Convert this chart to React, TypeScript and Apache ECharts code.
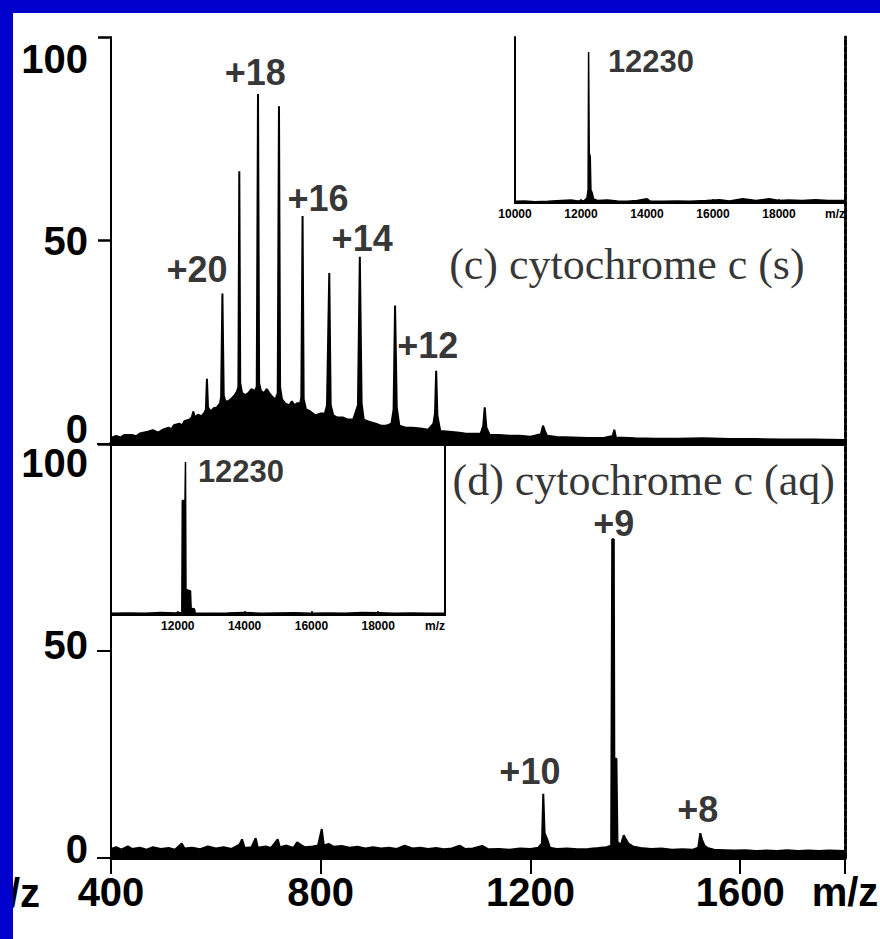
import React, { useEffect, useRef } from "react";
import * as echarts from "echarts";

const SANS = "'Liberation Sans', Arial, sans-serif";
const SERIF = "'Liberation Serif', 'Times New Roman', serif";

// ---- main x range (m/z) and y ticks ----
const mzRange: [number, number] = [400, 1800];
const mzInterval = 400;
const intensityRange: [number, number] = [0, 100];
const intensityInterval = 50;
const insetRange: [number, number] = [10000, 20000];
const insetInterval = 2000;

// ---- (c) cytochrome c (s) spectrum: [m/z, relative intensity] ----
const spectrumC: [number, number][] = [
  [400, 1.5], [410, 2], [418, 1.6], [425, 2.2], [440, 2.2], [448, 1.9], [455, 2.6], [470, 3], [480, 3.4], [490, 2.8],
  [500, 3.6], [510, 4], [515, 3.6], [520, 4.6], [530, 5], [536, 4.6], [540, 5.6], [550, 6], [554, 6.5], [557, 8],
  [560, 6.5], [566, 7.2], [572, 6.8], [578, 7.6], [581, 8.5], [583, 16], [585, 9], [590, 8],
  [596, 8.8], [602, 9], [608, 10], [610, 11.5], [612.5, 37], [615, 12], [618, 10.5], [624, 10.5],
  [630, 11.2], [636, 12], [640, 12.8], [643, 14], [644.7, 67], [646.5, 15], [650, 12.5], [656, 12],
  [662, 12.5], [668, 13.5], [674, 13], [678, 14], [680.4, 86], [682.5, 15], [686, 13], [692, 12.5],
  [697, 13.5], [702, 12.5], [708, 11.5], [714, 11], [718, 12.5], [720.4, 83], [722.5, 14], [726, 11],
  [732, 10], [740, 9.5], [745, 10.5], [750, 9.5], [755, 10], [761, 10], [763, 11.5], [765.4, 56], [767.5, 11],
  [772, 8.5], [780, 8], [790, 7], [800, 7.5], [808, 7.5], [812, 9.5], [816.3, 42], [819, 9.6],
  [824, 7], [832, 6.5], [842, 6.5], [852, 6], [862, 6], [871, 9.5], [874.6, 46], [878, 10],
  [882, 6], [892, 5.5], [905, 5], [915, 4.5], [925, 4.5], [935, 5], [939, 8.5], [941.8, 34],
  [945, 9], [950, 4.5], [962, 4], [975, 4], [990, 3.8], [1005, 3.5], [1015, 5], [1018, 7.5],
  [1020.2, 18], [1022.5, 7], [1028, 3.2], [1045, 3], [1060, 2.8], [1075, 2.6], [1090, 2.5], [1105, 2.5],
  [1110, 4.5], [1112.8, 9], [1116, 4], [1122, 2.3], [1140, 2.2], [1160, 2], [1180, 2], [1200, 1.8],
  [1220, 2.4], [1224, 4.5], [1228, 3], [1232, 2], [1250, 1.7], [1280, 1.6], [1310, 1.5], [1340, 1.5], [1357, 2],
  [1360, 3.5], [1363, 1.6], [1400, 1.4], [1440, 1.3], [1480, 1.3], [1530, 1.4], [1580, 1.2], [1630, 1.2],
  [1680, 1.1], [1740, 1.1], [1800, 1.0],
];

// ---- (d) cytochrome c (aq) spectrum ----
const spectrumD: [number, number][] = [
  [400, 2.2], [410, 2.6], [420, 2.0], [432, 2.8], [440, 2.2], [455, 2.5], [468, 2.0], [480, 2.6],
  [495, 2.2], [510, 2.4], [522, 2.0], [535, 3.5], [540, 2.3], [555, 2.5], [570, 2.1], [585, 2.8],
  [600, 2.3], [615, 2.6], [630, 2.2], [645, 3.2], [650, 4.5], [655, 2.4], [668, 2.6], [676, 4.8],
  [680, 2.5], [695, 2.8], [705, 2.4], [718, 4.5], [722, 2.6], [735, 3.0], [748, 2.4], [755, 3.8],
  [762, 3.2], [770, 2.6], [785, 2.8], [795, 3.0], [802, 7.0], [806, 3.0], [815, 3.4], [825, 2.7],
  [840, 2.9], [855, 2.5], [870, 2.7], [885, 2.3], [900, 2.6], [915, 2.3], [930, 2.5], [945, 2.2],
  [960, 3.0], [975, 2.3], [990, 2.5], [1005, 2.2], [1020, 2.4], [1035, 2.1], [1050, 2.3], [1065, 3.0],
  [1075, 2.2], [1090, 2.3], [1108, 2.9], [1120, 2.1], [1140, 2.2], [1160, 2.0], [1180, 2.3], [1200, 2.2],
  [1215, 2.5], [1222, 3.5], [1224.5, 15.5], [1227, 6], [1232, 4.5], [1237, 2.5], [1250, 2.2], [1270, 2.3],
  [1290, 2.1], [1310, 2.2], [1330, 2.4], [1345, 2.6], [1354, 3], [1356, 77], [1359, 77], [1360, 24],
  [1364, 24], [1366, 4], [1372, 3], [1378, 5.5], [1382, 4.5], [1387, 3.5], [1395, 2.8], [1410, 2.4],
  [1430, 2.2], [1450, 2.3], [1470, 2.0], [1490, 2.1], [1510, 2.0], [1520, 2.5], [1524, 6], [1527, 4.5],
  [1532, 3], [1538, 2.4], [1550, 2.0], [1570, 1.9], [1590, 1.8], [1610, 1.9], [1630, 1.7], [1650, 1.8],
  [1670, 1.7], [1690, 1.9], [1710, 1.7], [1730, 1.8], [1750, 1.7], [1770, 1.8], [1800, 1.7],
];

// ---- deconvoluted insets (mass) ----
const insetC: [number, number][] = [
  [10000, 1], [10300, 1.2], [10600, 0.8], [11000, 1], [11400, 1.5], [11700, 1.8], [11900, 1.2],
  [12100, 1.5], [12180, 3], [12215, 8], [12230, 91], [12250, 30], [12280, 28], [12300, 8],
  [12340, 6], [12380, 2.5], [12500, 1.5], [12800, 1.8], [13100, 1.2], [13400, 1], [13700, 1.5],
  [14000, 2.5], [14100, 1.2], [14500, 1], [14900, 1.2], [15300, 1], [15800, 1.5], [16200, 2],
  [16500, 1.2], [16900, 2.5], [17300, 1.5], [17700, 2.5], [18000, 1.5], [18300, 1.8], [18700, 1.5],
  [19100, 2], [19500, 1.5], [20000, 1.5],
];
const insetD: [number, number][] = [
  [10000, 1], [10500, 1.2], [11000, 1], [11500, 1.5], [11900, 1.2], [12120, 1.5], [12135, 67],
  [12215, 67], [12230, 89.5], [12245, 15], [12380, 14], [12400, 4], [12500, 3.5], [12520, 1.2],
  [13000, 1], [13500, 1.2], [14000, 1.5], [14500, 1], [15000, 1.2], [15500, 1.3], [16000, 1],
  [16500, 1.2], [17000, 1], [17500, 1.4], [18000, 1.3], [18500, 1], [19000, 1.1], [19500, 1], [20000, 1],
];

// ---- annotations (anchored in data coordinates) ----
const chargeLabelsC = [
  { text: "+20", mz: 564, y: 42.8 },
  { text: "+18", mz: 675, y: 91.4 },
  { text: "+16", mz: 795, y: 60.4 },
  { text: "+14", mz: 879, y: 50.6 },
  { text: "+12", mz: 1004, y: 24.3 },
];
const chargeLabelsD = [
  { text: "+10", mz: 1199, y: 20.8 },
  { text: "+9", mz: 1359, y: 80.9 },
  { text: "+8", mz: 1519, y: 11.8 },
];
const titleC = { text: "(c) cytochrome c (s)", mz: 1384, y: 44.2 };
const titleD = { text: "(d) cytochrome c (aq)", mz: 1416, y: 91.3 };
const massC = { text: "12230", mz: 14121, y: 85 };
const massD = { text: "12230", mz: 13892, y: 84 };
const axisUnit = "m/z";

const BLACK = "#000";

function labelSeries(items: { text: string; mz: number; y: number }[], xi: number, yi: number, fontSize: number, fontFamily: string, fontWeight: string) {
  return {
    type: "scatter",
    xAxisIndex: xi,
    yAxisIndex: yi,
    symbol: "circle",
    symbolSize: 1,
    silent: true,
    z: 10,
    itemStyle: { color: "rgba(0,0,0,0)" },
    data: items.map((d) => ({ name: d.text, value: [d.mz, d.y] })),
    label: {
      show: true,
      position: "inside",
      formatter: "{b}",
      color: BLACK,
      fontSize,
      fontFamily,
      fontWeight,
      align: "center",
      verticalAlign: "middle",
    },
  };
}

function spectrumSeries(data: [number, number][], xi: number, yi: number, width: number) {
  return {
    type: "line",
    xAxisIndex: xi,
    yAxisIndex: yi,
    data,
    showSymbol: false,
    symbol: "none",
    silent: true,
    lineStyle: { color: BLACK, width },
    areaStyle: { color: BLACK, opacity: 1 },
    z: 3,
  };
}

const f40 = { fontSize: 40, fontWeight: "bold", fontFamily: SANS, color: BLACK };
const r40 = { ...f40, lineHeight: 30 };
const dashed = { color: BLACK, width: 3, type: [5, 2] };

function buildOption() {
  const noSplit = { show: false };
  const fixedGrid = { containLabel: false, outerBoundsMode: "none" };
  return {
    animation: false,
    backgroundColor: "#fff",
    grid: [
      { ...fixedGrid, left: 111, top: 37, width: 734, height: 407 },
      { ...fixedGrid, left: 111, top: 444, width: 734, height: 414 },
      { ...fixedGrid, left: 515, top: 37, width: 330, height: 166 },
      { ...fixedGrid, left: 111, top: 444, width: 334, height: 171 },
    ],
    xAxis: [
      {
        gridIndex: 0, type: "value", position: "bottom", min: mzRange[0], max: mzRange[1], interval: mzInterval,
        axisLine: { show: true, lineStyle: { color: BLACK, width: 4 } },
        axisTick: { show: false }, axisLabel: { show: false }, splitLine: noSplit,
      },
      {
        gridIndex: 0, type: "value", position: "top", min: mzRange[0], max: mzRange[1], interval: mzInterval,
        axisLine: { show: true, lineStyle: { color: BLACK, width: 4 } },
        axisTick: { show: false }, axisLabel: { show: false }, splitLine: noSplit,
      },
      {
        gridIndex: 1, type: "value", position: "bottom", min: mzRange[0], max: mzRange[1], interval: mzInterval,
        axisLine: { show: true, lineStyle: { color: BLACK, width: 3 } },
        axisTick: { show: true, length: 16, lineStyle: { color: BLACK, width: 2 } },
        axisLabel: {
          ...f40, margin: 14,
          formatter: (v: number) => (v === mzRange[1] ? axisUnit : String(v)),
        },
        splitLine: noSplit,
      },
      {
        gridIndex: 2, type: "value", position: "bottom", min: insetRange[0], max: insetRange[1], interval: insetInterval,
        axisLine: { show: true, lineStyle: { color: BLACK, width: 2 } },
        axisTick: { show: true, inside: true, length: 4, lineStyle: { color: BLACK, width: 1.5 } },
        axisLabel: {
          fontSize: 12, fontWeight: "bold", fontFamily: SANS, color: BLACK, margin: 5,
          alignMaxLabel: "right",
          formatter: (v: number) => (v === insetRange[1] ? axisUnit : String(v)),
        },
        splitLine: noSplit,
      },
      {
        gridIndex: 3, type: "value", position: "bottom", min: insetRange[0], max: insetRange[1], interval: insetInterval,
        axisLine: { show: true, lineStyle: { color: BLACK, width: 2 } },
        axisTick: { show: true, inside: true, length: 4, lineStyle: { color: BLACK, width: 1.5 } },
        axisLabel: {
          fontSize: 12, fontWeight: "bold", fontFamily: SANS, color: BLACK, margin: 5,
          showMinLabel: false, alignMaxLabel: "right",
          formatter: (v: number) => (v === insetRange[1] ? axisUnit : String(v)),
        },
        splitLine: noSplit,
      },
    ],
    yAxis: [
      {
        gridIndex: 0, type: "value", position: "left", min: intensityRange[0], max: intensityRange[1], interval: intensityInterval,
        axisLine: { show: true, lineStyle: { color: BLACK, width: 2 } },
        axisTick: { show: true, length: 13, lineStyle: { color: BLACK, width: 2.5 } },
        axisLabel: {
          ...f40, margin: 23,
          formatter: (v: number) => (v === 100 ? `{hi|${v}}` : v === 0 ? `{lo|${v}}` : `{md|${v}}`),
          rich: { hi: { ...r40, padding: [44, 0, 0, 0] }, md: { ...r40 }, lo: { ...r40, padding: [0, 0, 30, 0] } },
        },
        splitLine: noSplit,
      },
      {
        gridIndex: 0, type: "value", position: "right", min: 0, max: 100,
        axisLine: { show: true, lineStyle: dashed },
        axisTick: { show: false }, axisLabel: { show: false }, splitLine: noSplit,
      },
      {
        gridIndex: 1, type: "value", position: "left", min: intensityRange[0], max: intensityRange[1], interval: intensityInterval,
        axisLine: { show: true, lineStyle: { color: BLACK, width: 2 } },
        axisTick: { show: true, length: 14, lineStyle: { color: BLACK, width: 2 } },
        axisLabel: {
          ...f40, margin: 23,
          formatter: (v: number) => (v === 100 ? `{hi|${v}}` : v === 0 ? `{lo|${v}}` : `{md|${v}}`),
          rich: { hi: { ...r40, padding: [38, 0, 0, 0] }, md: { ...r40, padding: [0, 0, 12, 0] }, lo: { ...r40, padding: [0, 0, 18, 0] } },
        },
        splitLine: noSplit,
      },
      {
        gridIndex: 1, type: "value", position: "right", min: 0, max: 100,
        axisLine: { show: true, lineStyle: dashed },
        axisTick: { show: false }, axisLabel: { show: false }, splitLine: noSplit,
      },
      {
        gridIndex: 2, type: "value", position: "left", min: 0, max: 100,
        axisLine: { show: true, lineStyle: { color: BLACK, width: 2 } },
        axisTick: { show: false }, axisLabel: { show: false }, splitLine: noSplit,
      },
      {
        gridIndex: 3, type: "value", position: "right", min: 0, max: 100,
        axisLine: { show: true, lineStyle: { color: BLACK, width: 2 } },
        axisTick: { show: false }, axisLabel: { show: false }, splitLine: noSplit,
      },
    ],
    series: [
      spectrumSeries(spectrumC, 0, 0, 2),
      spectrumSeries(spectrumD, 2, 2, 2),
      spectrumSeries(insetC, 3, 4, 1.5),
      spectrumSeries(insetD, 4, 5, 1.5),
      labelSeries(chargeLabelsC, 0, 0, 36, SANS, "bold"),
      labelSeries(chargeLabelsD, 2, 2, 36, SANS, "bold"),
      labelSeries([titleC], 0, 0, 44, SERIF, "normal"),
      labelSeries([titleD], 2, 2, 44, SERIF, "normal"),
      labelSeries([massC], 3, 4, 31, SANS, "bold"),
      labelSeries([massD], 4, 5, 31, SANS, "bold"),
    ],
    graphic: [
      {
        type: "text", z: 50,
        style: { text: axisUnit, x: 40, y: 893, align: "right", verticalAlign: "middle", fill: BLACK, font: `bold 40px ${SANS}` },
      },
      { type: "rect", z: 100, shape: { x: 0, y: 0, width: 13, height: 939 }, style: { fill: "#0000cc" } },
      { type: "rect", z: 100, shape: { x: 0, y: 0, width: 880, height: 13 }, style: { fill: "#0000cc" } },
    ],
  };
}

export default function App() {
  const ref = useRef<HTMLDivElement>(null);
  useEffect(() => {
    if (!ref.current) return;
    const chart = echarts.init(ref.current, null, { renderer: "svg" });
    chart.setOption(buildOption() as any);
    return () => chart.dispose();
  }, []);
  return (
    <div
      ref={ref}
      style={{ position: "fixed", left: 0, top: 0, width: 880, height: 939, background: "#fff" }}
    />
  );
}
